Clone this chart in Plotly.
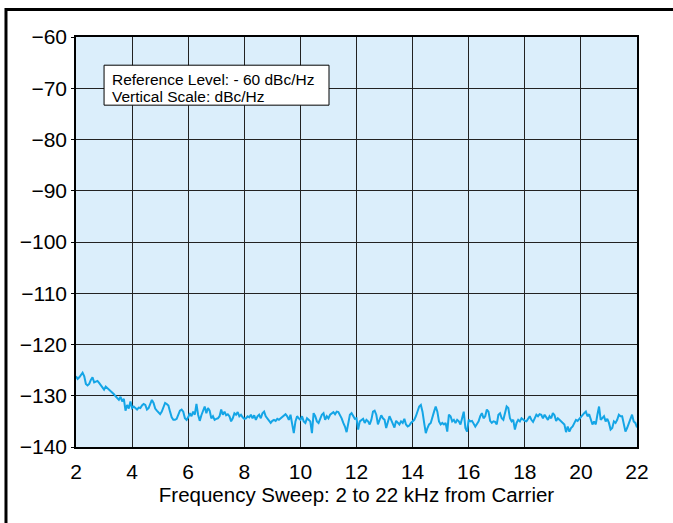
import numpy as np
import plotly.graph_objects as go

# Phase-noise level (dBc/Hz), uniformly spaced from 2 to 22 kHz
level_2_6 = [
    -126.2, -126.7, -126.4, -125.9, -125.5, -126.2, -127.7, -128.0, -127.7, -126.9,
    -126.4, -127.4, -127.3, -127.1, -127.5, -128.0, -128.5, -128.8, -128.2, -128.5,
    -128.8, -129.0, -129.3, -129.7, -130.1, -130.4, -130.8, -130.2, -131.1, -130.6,
    -132.9, -131.8, -132.5, -131.1, -132.4, -132.1, -132.5, -132.7, -132.3, -132.4,
    -131.9, -131.6, -131.8, -132.7, -132.4, -131.4, -130.8, -131.4, -132.5, -132.9,
    -133.2, -133.6, -133.1, -132.1, -131.4, -131.6, -131.9, -133.1, -134.2, -134.7,
    -134.7, -134.5, -133.6, -132.9, -132.7, -133.1, -134.4, -134.7,
]
level_6_10 = [
    -134.2, -133.4, -134.0, -133.1, -133.7, -131.6, -133.7, -134.9, -133.8, -133.1,
    -132.1, -133.4, -132.4, -132.9, -134.4, -134.0, -134.7, -134.5, -134.4, -134.0,
    -132.7, -133.7, -133.1, -133.8, -133.6, -134.0, -135.0, -134.4, -133.4, -133.7,
    -133.2, -134.0, -133.7, -134.2, -134.5, -134.4, -134.0, -134.2, -133.7, -134.4,
    -133.8, -134.7, -134.0, -133.7, -134.4, -133.4, -133.1, -134.0, -134.5, -135.0,
    -135.3, -134.9, -134.7, -134.9, -134.5, -134.7, -134.4, -134.2, -133.8, -133.6,
    -134.0, -134.7, -133.7, -135.6, -137.3, -135.0, -134.0, -134.4,
]
level_10_14 = [
    -134.7, -134.0, -135.0, -135.3, -134.4, -134.7, -135.0, -137.3, -133.4, -134.0,
    -135.0, -135.3, -134.4, -133.7, -133.4, -134.7, -134.0, -134.4, -133.7, -133.4,
    -133.2, -133.6, -133.1, -133.2, -133.7, -134.4, -135.3, -136.0, -137.1, -135.6,
    -133.7, -133.4, -134.0, -134.5, -134.4, -136.6, -135.0, -134.7, -134.5, -135.3,
    -134.7, -135.0, -135.6, -134.7, -133.1, -132.9, -133.7, -135.6, -134.7, -133.8,
    -134.4, -134.7, -136.3, -135.3, -134.0, -134.7, -135.6, -136.2, -134.9, -135.3,
    -135.6, -135.0, -135.3, -134.5, -135.6, -136.0, -135.8, -135.3,
]
level_14_18 = [
    -135.0, -134.7, -134.0, -133.1, -132.1, -131.8, -133.1, -135.3, -137.3, -136.3,
    -135.6, -135.3, -134.0, -133.1, -132.1, -133.1, -135.0, -135.6, -135.3, -135.6,
    -135.3, -137.0, -133.7, -134.0, -135.0, -134.7, -135.3, -134.7, -135.0, -135.6,
    -134.4, -133.1, -136.3, -137.0, -134.7, -135.0, -134.9, -135.6, -136.0, -135.5,
    -135.0, -134.0, -133.4, -134.4, -134.0, -132.7, -133.1, -134.9, -135.3, -135.0,
    -135.1, -135.6, -133.7, -133.4, -134.4, -134.7, -133.1, -132.1, -132.4, -134.4,
    -135.0, -134.7, -136.6, -135.3, -134.7, -135.0, -134.4, -134.7,
]
level_18_22 = [
    -134.9, -135.0, -134.5, -134.0, -134.7, -135.1, -134.4, -133.7, -134.0, -133.6,
    -133.7, -134.4, -133.7, -134.2, -134.7, -134.0, -134.4, -133.4, -133.8, -134.9,
    -134.4, -134.7, -135.0, -135.3, -135.6, -137.1, -136.0, -137.0, -136.3, -136.0,
    -135.3, -134.7, -134.9, -134.5, -134.0, -133.6, -133.4, -133.1, -134.0, -133.6,
    -134.7, -135.6, -135.0, -135.6, -133.7, -132.1, -134.7, -134.4, -134.0, -135.0,
    -134.5, -135.3, -136.6, -136.3, -135.0, -135.3, -134.7, -133.7, -134.0, -134.0,
    -135.3, -137.0, -136.3, -135.3, -134.7, -133.7, -135.0, -135.3, -136.2,
]

level = level_2_6 + level_6_10 + level_10_14 + level_14_18 + level_18_22
freq_start, freq_end = 2, 22
freq = np.linspace(freq_start, freq_end, len(level))

x_ticks = [2, 4, 6, 8, 10, 12, 14, 16, 18, 20, 22]
y_ticks = [-60, -70, -80, -90, -100, -110, -120, -130, -140]

x_title = "Frequency Sweep: 2 to 22 kHz from Carrier"
note_lines = ["Reference Level: - 60 dBc/Hz", "Vertical Scale: dBc/Hz"]

FONT = "Arial, Liberation Sans, sans-serif"

fig = go.Figure()
fig.add_trace(go.Scatter(
    x=freq, y=level, mode="lines",
    line=dict(color="#14a5e6", width=2),
    showlegend=False, hoverinfo="skip",
))

# note box
fig.add_shape(type="rect", xref="x", yref="y",
              x0=3.0, x1=11.02, y0=-73.3, y1=-65.5,
              line=dict(color="black", width=1), fillcolor="white", layer="above")
for yv, txt in zip([-68.35, -71.65], note_lines):
    fig.add_annotation(
        x=3.2, y=yv, xref="x", yref="y",
        xanchor="left", yanchor="middle", align="left",
        text=txt, showarrow=False,
        font=dict(family=FONT, size=15.5, color="black"),
    )

# outer figure frame (left and top edges visible)
fig.add_shape(type="rect", xref="paper", yref="paper",
              x0=-0.1248, x1=1.5, y0=-0.5, y1=1.067,
              line=dict(color="black", width=3), fillcolor="rgba(0,0,0,0)")

fig.update_layout(
    width=673, height=523,
    margin=dict(l=76, r=36, t=37, b=76),
    paper_bgcolor="white",
    plot_bgcolor="#dbeefb",
    font=dict(family=FONT, size=16, color="black"),
    xaxis=dict(
        range=[freq_start, freq_end], tickvals=x_ticks,
        showgrid=True, gridcolor="#222222", gridwidth=1,
        showline=True, linecolor="black", linewidth=1.5, mirror=True,
        ticks="", zeroline=False, ticklabelstandoff=5,
        title=dict(text=x_title, font=dict(size=20.5), standoff=5),
        tickfont=dict(size=21),
    ),
    yaxis=dict(
        range=[-140, -60], tickvals=y_ticks,
        showgrid=True, gridcolor="#222222", gridwidth=1,
        showline=True, linecolor="black", linewidth=1.5, mirror=True,
        ticks="outside", ticklen=3, tickcolor="black", zeroline=False,
        tickfont=dict(size=21),
    ),
)

fig.write_html("out.html", config={"displayModeBar": False},
               post_script="document.body.style.margin='0px';")
